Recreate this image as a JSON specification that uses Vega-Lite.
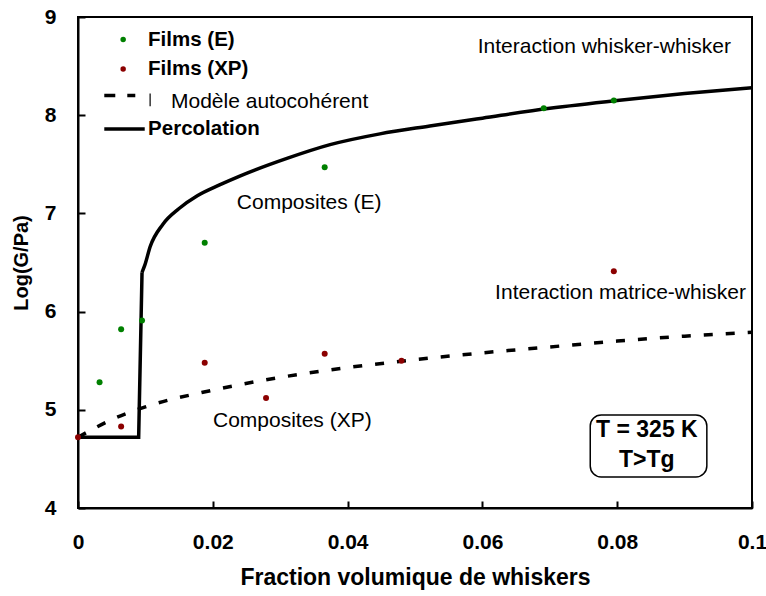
{
  "$schema": "https://vega.github.io/schema/vega-lite/v6.json",
  "width": 674,
  "height": 491,
  "autosize": {"type": "none"},
  "padding": {"left": 78, "top": 17, "right": 14, "bottom": 88},
  "background": "white",
  "config": {
    "view": {"stroke": "black", "strokeWidth": 2},
    "font": "Liberation Sans",
    "axis": {"grid": false, "domainColor": "black", "domainWidth": 2, "tickColor": "black", "tickWidth": 2, "tickSize": -7,
      "labelFont": "Liberation Sans", "labelFontWeight": "bold", "labelFontSize": 21, "labelColor": "black",
      "titleFont": "Liberation Sans", "titleFontWeight": "bold", "titleColor": "black"}
  },
  "datasets": {
    "step": [
      {"i": 0, "x": 0, "y": 4.72}, {"i": 1, "x": 0.009, "y": 4.72}, {"i": 2, "x": 0.0095, "y": 6.40}
    ],
    "perc": [
      {"x": 0.0095, "y": 6.40}, {"x": 0.0099, "y": 6.47}, {"x": 0.0107, "y": 6.66}, {"x": 0.0126, "y": 6.89},
      {"x": 0.015, "y": 7.05}, {"x": 0.0177, "y": 7.18}, {"x": 0.021, "y": 7.29},
      {"x": 0.024, "y": 7.38}, {"x": 0.031, "y": 7.56}, {"x": 0.0374, "y": 7.70},
      {"x": 0.0448, "y": 7.81}, {"x": 0.0522, "y": 7.89}, {"x": 0.06, "y": 7.97},
      {"x": 0.07, "y": 8.07}, {"x": 0.08, "y": 8.15}, {"x": 0.09, "y": 8.22},
      {"x": 0.1, "y": 8.28}
    ],
    "auto": [
      {"x": 0, "y": 4.72}, {"x": 0.005, "y": 4.90}, {"x": 0.01, "y": 5.03}, {"x": 0.02, "y": 5.20},
      {"x": 0.03, "y": 5.33}, {"x": 0.04, "y": 5.43}, {"x": 0.05, "y": 5.51}, {"x": 0.06, "y": 5.58},
      {"x": 0.07, "y": 5.64}, {"x": 0.08, "y": 5.70}, {"x": 0.09, "y": 5.75}, {"x": 0.1, "y": 5.79}
    ],
    "pts": [
      {"s": "Films (E)", "x": 0.0032, "y": 5.28}, {"s": "Films (E)", "x": 0.0064, "y": 5.82},
      {"s": "Films (E)", "x": 0.0095, "y": 5.91}, {"s": "Films (E)", "x": 0.0188, "y": 6.70},
      {"s": "Films (E)", "x": 0.0366, "y": 7.47}, {"s": "Films (E)", "x": 0.0691, "y": 8.07},
      {"s": "Films (E)", "x": 0.0795, "y": 8.15},
      {"s": "Films (XP)", "x": 0, "y": 4.72}, {"s": "Films (XP)", "x": 0.0064, "y": 4.83},
      {"s": "Films (XP)", "x": 0.0188, "y": 5.48}, {"s": "Films (XP)", "x": 0.0279, "y": 5.12},
      {"s": "Films (XP)", "x": 0.0366, "y": 5.57}, {"s": "Films (XP)", "x": 0.048, "y": 5.50},
      {"s": "Films (XP)", "x": 0.0795, "y": 6.41}
    ],
    "legpts": [
      {"s": "Films (E)", "x": 0.0067, "y": 8.77}, {"s": "Films (XP)", "x": 0.0067, "y": 8.47}
    ],
    "legtext": [
      {"t": "Films (E)", "x": 0.0104, "y": 8.77},
      {"t": "Films (XP)", "x": 0.0104, "y": 8.47},
      {"t": "Percolation", "x": 0.0104, "y": 7.86}
    ],
    "ann": [
      {"t": "Interaction whisker-whisker", "x": 0.0781, "y": 8.69},
      {"t": "Composites (E)", "x": 0.0343, "y": 7.11},
      {"t": "Interaction matrice-whisker", "x": 0.0805, "y": 6.19},
      {"t": "Composites (XP)", "x": 0.0318, "y": 4.89}
    ],
    "box": [{"x": 0.0760, "x2": 0.0933, "y": 4.947, "y2": 4.316}],
    "boxtext": [{"t": "T = 325 K", "x": 0.0844, "y": 4.79}, {"t": "T>Tg", "x": 0.0844, "y": 4.49}]
  },
  "layer": [
    {
      "data": {"name": "step"},
      "mark": {"type": "line", "color": "black", "strokeWidth": 3.5},
      "encoding": {
        "x": {"field": "x", "type": "quantitative", "scale": {"domain": [0, 0.1], "nice": false},
          "axis": {"values": [0, 0.02, 0.04, 0.06, 0.08, 0.1], "format": "~g", "labelPadding": 30, "title": "Fraction volumique de whiskers", "titleFontSize": 23, "titlePadding": 14, "labelFlush": false}},
        "y": {"field": "y", "type": "quantitative", "scale": {"domain": [4, 9], "nice": false},
          "axis": {"values": [4, 5, 6, 7, 8, 9], "format": "d", "labelPadding": 29, "title": "Log(G/Pa)", "titleFontSize": 20, "titlePadding": 13}},
        "order": {"field": "i", "type": "quantitative"}
      }
    },
    {
      "data": {"name": "perc"},
      "mark": {"type": "line", "color": "black", "strokeWidth": 3.5, "interpolate": "monotone"},
      "encoding": {"x": {"field": "x", "type": "quantitative"}, "y": {"field": "y", "type": "quantitative"}}
    },
    {
      "data": {"name": "auto"},
      "mark": {"type": "line", "color": "black", "strokeWidth": 3.5, "strokeDash": [9, 13], "interpolate": "monotone"},
      "encoding": {"x": {"field": "x", "type": "quantitative"}, "y": {"field": "y", "type": "quantitative"}}
    },
    {
      "data": {"name": "pts"},
      "mark": {"type": "circle", "size": 36, "opacity": 1},
      "encoding": {
        "x": {"field": "x", "type": "quantitative"}, "y": {"field": "y", "type": "quantitative"},
        "color": {"field": "s", "type": "nominal", "scale": {"domain": ["Films (E)", "Films (XP)"], "range": ["#008000", "#8b0000"]}, "legend": null}
      }
    },
    {
      "data": {"name": "legpts"},
      "mark": {"type": "circle", "size": 30, "opacity": 1},
      "encoding": {
        "x": {"field": "x", "type": "quantitative"}, "y": {"field": "y", "type": "quantitative"},
        "color": {"field": "s", "type": "nominal", "legend": null}
      }
    },
    {
      "data": {"values": [{"x": 0.0039, "y": 8.20}, {"x": 0.0085, "y": 8.20}]},
      "mark": {"type": "line", "color": "black", "strokeWidth": 3.5, "strokeDash": [11, 12]},
      "encoding": {"x": {"field": "x", "type": "quantitative"}, "y": {"field": "y", "type": "quantitative"}}
    },
    {
      "data": {"values": [{"x": 0.0039, "y": 7.86}, {"x": 0.0099, "y": 7.86}]},
      "mark": {"type": "line", "color": "black", "strokeWidth": 3.5},
      "encoding": {"x": {"field": "x", "type": "quantitative"}, "y": {"field": "y", "type": "quantitative"}}
    },
    {
      "data": {"values": [{"x": 0.0107, "y": 8.22}, {"x": 0.0107, "y": 8.09}]},
      "mark": {"type": "line", "color": "black", "strokeWidth": 1.2},
      "encoding": {"x": {"field": "x", "type": "quantitative"}, "y": {"field": "y", "type": "quantitative"}}
    },
    {
      "data": {"name": "legtext"},
      "mark": {"type": "text", "align": "left", "baseline": "middle", "fontSize": 20.5, "fontWeight": "bold", "color": "black"},
      "encoding": {"x": {"field": "x", "type": "quantitative"}, "y": {"field": "y", "type": "quantitative"}, "text": {"field": "t"}}
    },
    {
      "data": {"values": [{"t": "Modèle autocohérent", "x": 0.0138, "y": 8.13}]},
      "mark": {"type": "text", "align": "left", "baseline": "middle", "fontSize": 21, "color": "black"},
      "encoding": {"x": {"field": "x", "type": "quantitative"}, "y": {"field": "y", "type": "quantitative"}, "text": {"field": "t"}}
    },
    {
      "data": {"name": "ann"},
      "mark": {"type": "text", "align": "center", "baseline": "middle", "fontSize": 21, "color": "black"},
      "encoding": {"x": {"field": "x", "type": "quantitative"}, "y": {"field": "y", "type": "quantitative"}, "text": {"field": "t"}}
    },
    {
      "data": {"name": "box"},
      "mark": {"type": "rect", "fill": "white", "stroke": "black", "strokeWidth": 1.5, "cornerRadius": 11},
      "encoding": {"x": {"field": "x", "type": "quantitative"}, "x2": {"field": "x2"}, "y": {"field": "y", "type": "quantitative"}, "y2": {"field": "y2"}}
    },
    {
      "data": {"name": "boxtext"},
      "mark": {"type": "text", "align": "center", "baseline": "middle", "fontSize": 23, "fontWeight": "bold", "color": "black"},
      "encoding": {"x": {"field": "x", "type": "quantitative"}, "y": {"field": "y", "type": "quantitative"}, "text": {"field": "t"}}
    }
  ]
}
